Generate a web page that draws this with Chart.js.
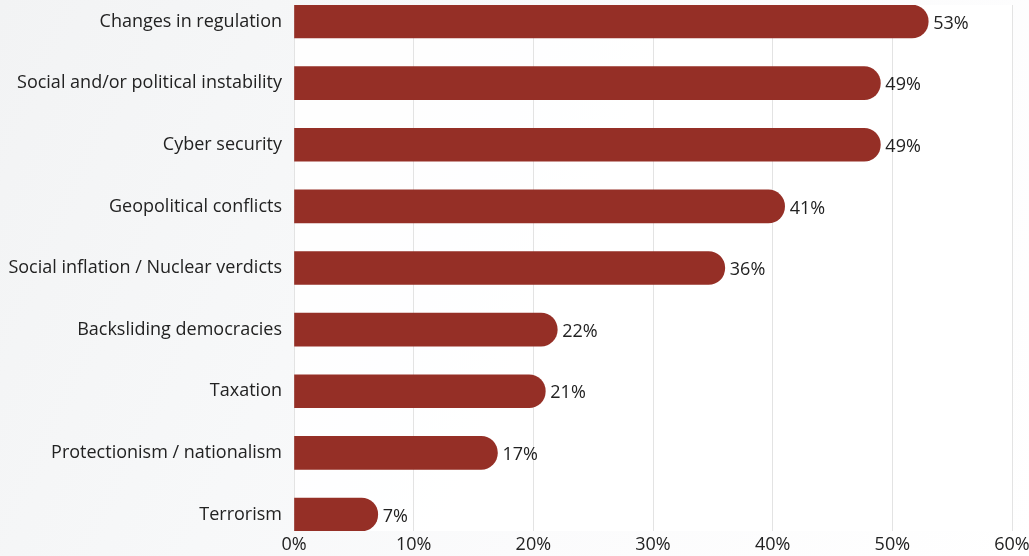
<!DOCTYPE html>
<html>
<head>
<meta charset="utf-8">
<script src="https://cdn.jsdelivr.net/npm/chart.js@4"></script>
<style>
  html, body { margin: 0; padding: 0; }
  body {
    width: 1029px; height: 556px; overflow: hidden;
    background: linear-gradient(115deg, #f2f3f4 0%, #f7f8f9 35%, #fbfbfc 60%, #ffffff 100%);
  }
  #wrap { position: relative; width: 1029px; height: 556px; }
</style>
</head>
<body>
<div id="wrap"><canvas id="c"></canvas></div>
<script>
const categories = [
  "Changes in regulation",
  "Social and/or political instability",
  "Cyber security",
  "Geopolitical conflicts",
  "Social inflation / Nuclear verdicts",
  "Backsliding democracies",
  "Taxation",
  "Protectionism / nationalism",
  "Terrorism"
];
const values = [53, 49, 49, 41, 36, 22, 21, 17, 7];
const xTicks = [0, 10, 20, 30, 40, 50, 60];

const points = values.map((v, i) => ({ x: v, y: i }));

const areaBg = {
  id: 'areaBg',
  beforeDraw(chart) {
    const { ctx, chartArea: a } = chart;
    ctx.save();
    ctx.fillStyle = 'rgba(255,255,255,0.85)';
    ctx.fillRect(a.left, a.top, a.right - a.left, a.bottom - a.top);
    ctx.restore();
  }
};

const valueLabels = {
  id: 'valueLabels',
  afterDatasetsDraw(chart) {
    const { ctx } = chart;
    const meta = chart.getDatasetMeta(0);
    ctx.save();
    ctx.font = '18px "Open Sans", sans-serif';
    ctx.fillStyle = '#222222';
    ctx.textAlign = 'left';
    ctx.textBaseline = 'middle';
    meta.data.forEach((el, i) => {
      ctx.fillText(values[i] + '%', el.x + 5, el.y + 2);
    });
    ctx.restore();
  }
};

new Chart(document.getElementById('c'), {
  type: 'bar',
  data: {
    datasets: [{
      data: points,
      backgroundColor: '#952f26',
      borderWidth: 0,
      borderRadius: 20,
      borderSkipped: 'start',
      barThickness: 33
    }]
  },
  options: {
    indexAxis: 'y',
    responsive: true,
    maintainAspectRatio: false,
    animation: false,
    layout: { padding: { top: 5, left: 0, right: 0, bottom: 0 } },
    plugins: { legend: { display: false }, tooltip: { enabled: false } },
    scales: {
      x: {
        type: 'linear',
        min: 0, max: 60,
        afterBuildTicks(scale) { scale.ticks = xTicks.map(v => ({ value: v })); },
        afterFit(scale) { scale.height = 25; scale.paddingRight = 17; scale.paddingLeft = 0; },
        grid: { color: '#e3e3e3', lineWidth: 1, drawTicks: false },
        border: { display: false },
        ticks: {
          padding: 3,
          color: '#222222',
          font: { family: '"Open Sans", sans-serif', size: 18 },
          callback: v => v + '%'
        }
      },
      y: {
        type: 'linear',
        bounds: 'data',
        offset: false,
        reverse: true,
        min: -0.268, max: 8.268,
        afterBuildTicks(scale) { scale.ticks = categories.map((c, i) => ({ value: i })); },
        afterFit(scale) { scale.width = 294; scale.paddingTop = 0; scale.paddingBottom = 0; },
        grid: { display: false, drawTicks: false, offset: false },
        border: { display: false },
        ticks: {
          padding: 12,
          color: '#222222',
          font: { family: '"Open Sans", sans-serif', size: 18 },
          callback: v => categories[v]
        }
      }
    }
  },
  plugins: [areaBg, valueLabels]
});
</script>
</body>
</html>
